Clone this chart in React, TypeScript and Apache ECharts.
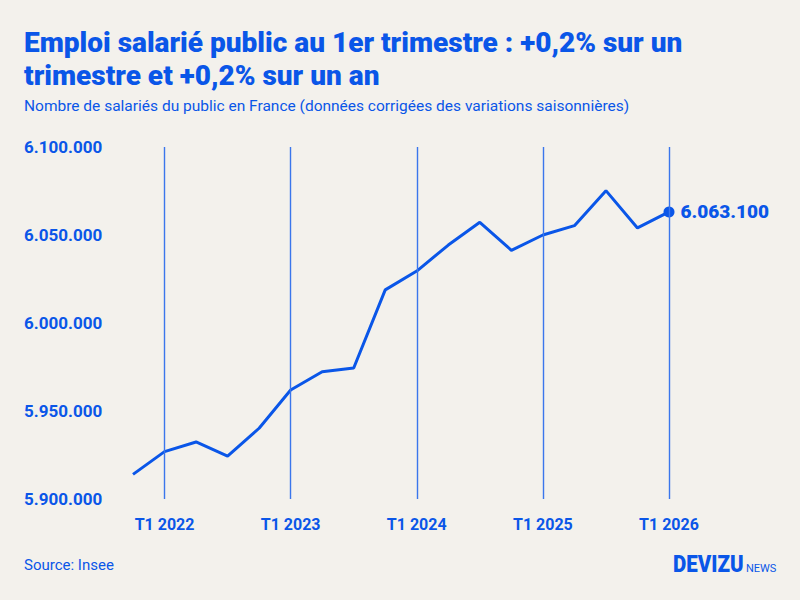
import React, { useEffect, useRef } from "react";
import * as echarts from "echarts";

const categories = [
  "T4 2021",
  "T1 2022", "T2 2022", "T3 2022", "T4 2022",
  "T1 2023", "T2 2023", "T3 2023", "T4 2023",
  "T1 2024", "T2 2024", "T3 2024", "T4 2024",
  "T1 2025", "T2 2025", "T3 2025", "T4 2025",
  "T1 2026",
];
const employment = [
  5914000,
  5926900, 5932400, 5924300, 5940200,
  5961900, 5972300, 5974400, 6018800,
  6029500, 6044300, 6057200, 6041300,
  6050000, 6055300, 6075200, 6054000,
  6063100,
];
const yTicks = { min: 5900000, max: 6100000, interval: 50000 };

const BLUE = "#0a56e8";
const BG = "#f3f1ec";

function fmt(v: number): string {
  return String(Math.round(v)).replace(/\B(?=(\d{3})+(?!\d))/g, ".");
}

export default function App() {
  const ref = useRef<HTMLDivElement>(null);
  useEffect(() => {
    document.body.style.margin = "0";
    if (!ref.current) return;
    const chart = echarts.init(ref.current, undefined, { renderer: "svg" });
    const lastIdx = employment.length - 1;
    const isT1 = (_i: number, v: string) => String(v).startsWith("T1");
    const t1Cats = categories.filter((c) => c.startsWith("T1"));
    chart.setOption({
      animation: false,
      backgroundColor: BG,
      textStyle: { fontFamily: "Roboto" },
      title: [
        {
          text: "Emploi salarié public au 1er trimestre : +0,2% sur un\ntrimestre et +0,2% sur un an",
          left: 24,
          top: 26,
          padding: 0,
          textStyle: {
            color: BLUE,
            fontSize: 28,
            fontWeight: 900,
            fontFamily: "Roboto",
            lineHeight: 33,
          },
        },
        {
          text: "Nombre de salariés du public en France (données corrigées des variations saisonnières)",
          left: 24,
          top: 98,
          padding: 0,
          textStyle: { color: BLUE, fontSize: 15.5, fontWeight: "normal", fontFamily: "Roboto" },
        },
        {
          text: "Source: Insee",
          left: 24,
          top: 557,
          padding: 0,
          textStyle: { color: BLUE, fontSize: 15, fontWeight: "normal", fontFamily: "Roboto" },
        },
      ],
      graphic: [
        {
          type: "text",
          x: 673,
          y: 553,
          scaleX: 0.89,
          style: {
            text: "DEVIZU",
            fill: BLUE,
            font: "900 23px Roboto",
          },
        },
        {
          type: "text",
          x: 746,
          y: 563,
          style: {
            text: "NEWS",
            fill: BLUE,
            font: "11px Roboto",
          },
        },
      ],
      grid: { left: 133, right: 131, top: 147, bottom: 101 },
      xAxis: {
        type: "category",
        data: categories,
        boundaryGap: false,
        axisLine: { show: false },
        axisTick: { show: false },
        axisLabel: {
          interval: isT1,
          color: BLUE,
          fontSize: 16,
          fontWeight: "bold",
          margin: 17,
        },
        splitLine: { show: false },
      },
      yAxis: {
        type: "value",
        min: yTicks.min,
        max: yTicks.max,
        interval: yTicks.interval,
        splitLine: { show: false },
        axisLine: { show: false },
        axisTick: { show: false },
        axisLabel: {
          color: BLUE,
          fontSize: 17,
          fontWeight: "bold",
          align: "left",
          margin: 109,
          formatter: (v: number) => fmt(v),
        },
      },
      series: [
        {
          type: "line",
          data: employment,
          showSymbol: false,
          z: 3,
          lineStyle: { color: BLUE, width: 3 },
          itemStyle: { color: BLUE },
          markLine: {
            silent: true,
            symbol: "none",
            label: { show: false },
            lineStyle: { color: "#3a76ec", width: 1.4, type: "solid" },
            data: t1Cats.map((c) => ({ xAxis: c })),
          },
        },
        {
          type: "scatter",
          data: [[categories[lastIdx], employment[lastIdx]]],
          symbolSize: 11,
          z: 4,
          itemStyle: { color: BLUE, opacity: 1 },
          label: {
            show: true,
            position: "right",
            distance: 6,
            color: BLUE,
            fontSize: 19,
            fontWeight: 900,
            formatter: (p: any) => fmt(p.value[1]),
          },
        },
      ],
    });
    return () => chart.dispose();
  }, []);
  return <div ref={ref} style={{ width: 800, height: 600 }} />;
}
